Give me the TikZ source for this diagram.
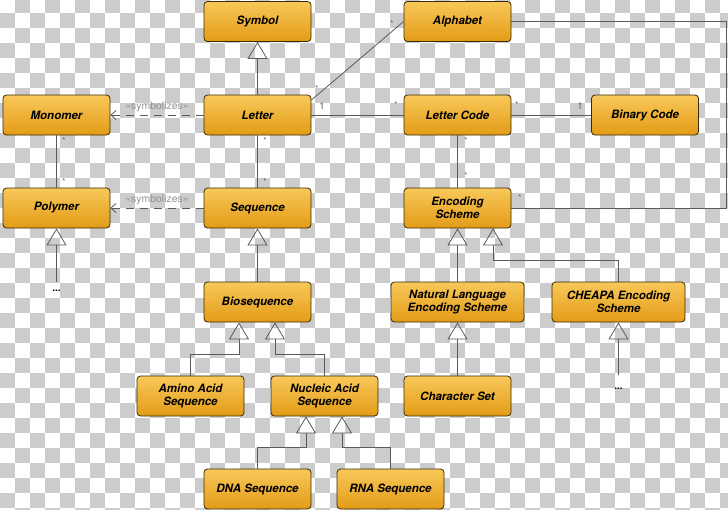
\documentclass[tikz,border=0pt]{standalone}
\usepackage{fontspec}
\setmainfont{TeX Gyre Heros}
\usetikzlibrary{arrows.meta}

\definecolor{boxtop}{HTML}{F8C85A}
\definecolor{boxbot}{HTML}{E39B16}
\definecolor{boxline}{HTML}{3B2A05}
\definecolor{linegray}{HTML}{5A5A5A}
\definecolor{checker}{HTML}{CCCCCC}

\tikzset{
	cls/.style={draw=boxline, line width=0.8pt, rounded corners=3.5pt, top color=boxtop, bottom color=boxbot,
		minimum width=107pt, minimum height=40pt, inner sep=2pt, align=center,
		font=\fontsize{11.5}{13}\selectfont\bfseries\itshape},
	wide/.style={cls, minimum width=133pt},
	assoc/.style={draw=linegray, line width=0.8pt},
	inherit/.style={assoc, -{Triangle[open, length=17pt, width=20pt]}},
	symb/.style={assoc, dash pattern=on 8pt off 6pt, -{Straight Barb[length=5pt, width=9pt]}},
	mult/.style={text=linegray, font=\fontsize{8}{9}\selectfont, inner sep=0pt},
	stereo/.style={text=gray!85, font=\fontsize{10.5}{11}\selectfont, inner sep=0pt},
	more/.style={font=\bfseries, inner sep=0pt}
}

\begin{document}
\begin{tikzpicture}[x=1pt, y=-1pt]
	\useasboundingbox (0,0) rectangle (728,509);

	% background squares
	\begin{scope}
		\clip (0,0) rectangle (728,509);
		\foreach \i in {0,...,48}{
			\foreach \j in {0,...,34}{
				\pgfmathparse{int(mod(\i+\j,2))}
				\ifnum\pgfmathresult=1
					\fill[checker] (15*\i, 15*\j-1.7) rectangle ++(15,15);
				\fi
			}
		}
	\end{scope}

	% classes
	\node[cls] (symbol) at (257.5,21.5) {Symbol};
	\node[cls] (alphabet) at (457.5,21.5) {Alphabet};
	\node[cls] (monomer) at (56.5,115) {Monomer};
	\node[cls] (letter) at (257.5,115) {Letter};
	\node[cls] (lettercode) at (457.5,115) {Letter Code};
	\node[cls] (binary) at (645,115) {Binary Code};
	\node[cls] (polymer) at (56.5,208) {Polymer};
	\node[cls] (sequence) at (257.5,208) {Sequence};
	\node[cls] (encoding) at (457.5,208) {Encoding\\Scheme};
	\node[cls] (bio) at (257.5,302) {Biosequence};
	\node[wide] (natural) at (457.5,302) {Natural Language\\Encoding Scheme};
	\node[wide] (cheapa) at (618.5,302) {CHEAPA Encoding\\Scheme};
	\node[cls] (amino) at (190.5,396) {Amino Acid\\Sequence};
	\node[cls] (nucleic) at (324.5,396) {Nucleic Acid\\Sequence};
	\node[cls] (charset) at (457.5,396) {Character Set};
	\node[cls] (dna) at (257.5,489) {DNA Sequence};
	\node[cls] (rna) at (390.5,489) {RNA Sequence};

	\node[more] (polymore) at (56.5,291) {...};
	\node[more] (cheapamore) at (618.5,389) {...};
	\coordinate (polytail) at (56.5,282);
	\coordinate (cheapatail) at (618.5,375);

	% generalisations
	\draw[inherit] (letter) -- (symbol);
	\draw[inherit] (bio) -- (sequence);
	\draw[inherit] (polytail) -- (polymer.south);
	\draw[inherit] (natural) -- (encoding);
	\draw[inherit] (charset) -- (natural);
	\draw[inherit] (cheapatail) -- (cheapa.south);
	\draw[inherit] (cheapa.north) -- ++(0,-21) -| ([xshift=35.5pt]encoding.south);
	\draw[inherit] (amino.north) -- ++(0,-21) -| ([xshift=-18.5pt]bio.south);
	\draw[inherit] (nucleic.north) -- ++(0,-21) -| ([xshift=17.5pt]bio.south);
	\draw[inherit] (dna.north) -- ++(0,-21) -| ([xshift=-18.5pt]nucleic.south);
	\draw[inherit] (rna.north) -- ++(0,-21) -| ([xshift=17.5pt]nucleic.south);

	% symbolizes
	\draw[symb] (letter) -- node[stereo, above=3pt] {«symbolizes»} (monomer);
	\draw[symb] (sequence) -- node[stereo, above=3pt] {«symbolizes»} (polymer);

	% associations
	\path[assoc]
	(monomer) edge (polymer)
	(letter) edge (sequence)
		edge (lettercode)
	([yshift=15pt]letter.east) edge (alphabet.west)
	(lettercode) edge (binary)
		edge (encoding);
	\draw[assoc] (alphabet.east) -- ++(215,0) |- (encoding.east);

	% multiplicities
	\node[mult] at (64,141) {*};
	\node[mult] at (64,182) {*};
	\node[mult] at (265,141) {*};
	\node[mult] at (265,182) {*};
	\node[mult] at (317,89) {*};
	\node[mult] at (392,24) {*};
	\node[mult, font=\fontsize{9.5}{10}\selectfont] at (322,106) {1};
	\node[mult] at (396,105) {*};
	\node[mult] at (517,105) {*};
	\node[mult, font=\fontsize{9.5}{10}\selectfont] at (580,106) {1};
	\node[mult] at (466,141) {*};
	\node[mult] at (466,176) {*};
	\node[mult] at (520,198) {*};
\end{tikzpicture}
\end{document}
